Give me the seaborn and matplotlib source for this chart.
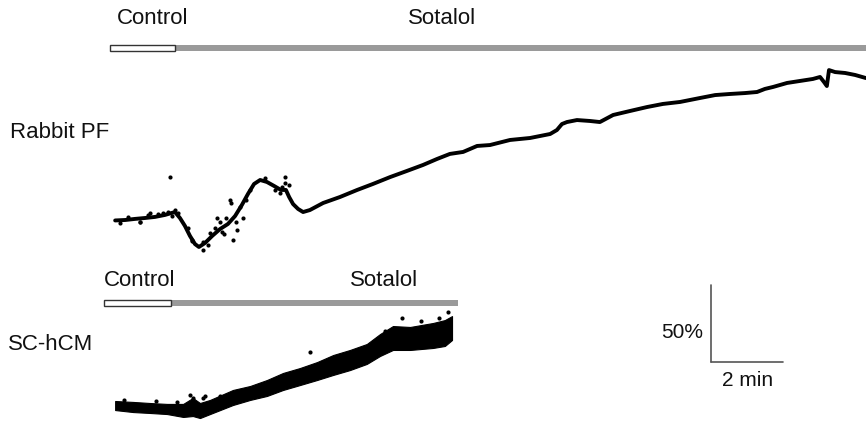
import matplotlib
matplotlib.use("Agg")
import matplotlib.pyplot as plt
from matplotlib.patches import Rectangle
import seaborn as sns
import pandas as pd

# ---------------- data (time in min, signal in % change) ----------------
rabbit_t = [0.06, 0.34, 0.61, 0.89, 1.17, 1.45, 1.73, 1.87, 2.01, 2.15, 2.29, 2.40,
            2.57, 2.77, 2.99, 3.21, 3.41, 3.60, 3.77, 3.94, 4.11, 4.30, 4.50, 4.69,
            4.83, 4.92, 5.03, 5.17, 5.31, 5.50, 5.87, 6.34, 6.82, 7.26, 7.74, 8.21,
            8.66, 9.05, 9.41, 9.78, 10.17, 10.53, 11.09, 11.65, 12.21, 12.40, 12.54,
            12.68, 12.96, 13.32, 13.60, 13.97, 14.44, 14.92, 15.36, 15.84, 16.40,
            16.82, 17.23, 17.65, 17.99, 18.21, 18.44, 18.83, 19.19, 19.55, 19.75,
            19.86, 19.94, 20.00, 20.17, 20.45, 20.73, 21.03]
rabbit_v = [-0.3, 0.0, 0.7, 1.3, 2.0, 3.3, 5.2, 1.3, -3.9, -10.4, -15.7, -17.6,
            -15.0, -10.4, -5.9, -2.6, 2.6, 9.8, 17.0, 23.5, 26.1, 24.8, 22.2, 19.6,
            19.6, 15.0, 10.4, 7.2, 5.2, 6.5, 11.1, 15.0, 19.6, 23.5, 28.0, 32.0,
            35.9, 39.8, 43.1, 44.4, 48.3, 48.9, 52.2, 53.5, 56.1, 58.7, 62.6,
            63.9, 65.2, 64.6, 63.9, 68.5, 71.1, 73.7, 75.7, 77.0, 79.6,
            81.5, 82.2, 82.8, 83.5, 85.5, 86.8, 89.4, 90.7, 92.0, 93.3,
            90.0, 87.4, 97.8, 96.5, 95.9, 94.6, 92.6]
# scattered samples around the trace (control and early sotalol)
rabbit_dot_t = [3.27, 3.30, 3.46, 3.35, 2.91, 2.71, 2.99, 3.55, 3.63, 4.80, 4.72,
                1.03, 1.40, 1.73, 1.59, 4.80, 2.20, 2.50, 3.10, 0.75,
                0.20, 0.42, 0.75, 0.98, 1.26, 1.54, 1.65, 1.82,
                2.09, 2.21, 2.51, 2.65, 2.85, 3.04, 3.16, 3.44, 3.72, 3.83,
                4.25, 4.53, 4.66, 4.92]
rabbit_dot_v = [13.0, 11.1, -6.5, -13.0, 1.3, -8.5, -1.3, 8.5, 1.3, 24.1, 21.5,
                4.6, 4.6, 6.5, 28.0, 28.0, -14.0, -19.5, -9.0, -1.5,
                -2.0, 2.0, -1.3, 3.3, 3.9, 5.2, 2.6, 4.6,
                -5.2, -13.0, -14.4, -16.3, -5.2, -7.8, 1.3, -1.3, 13.0, 19.6,
                27.4, 19.6, 17.6, 22.8]

sc_t = [0.06, 0.56, 1.03, 1.51, 1.96, 2.23, 2.43, 2.71, 3.35, 3.83, 4.30, 4.75,
        5.22, 5.70, 6.15, 6.62, 7.09, 7.46, 7.82, 8.30, 8.94, 9.27, 9.47]
sc_upper = [2.6, 2.0, 1.3, 0.7, 0.7, 4.6, 1.3, 3.3, 9.8, 12.4, 16.3, 20.9,
            24.1, 28.0, 32.6, 35.9, 39.8, 46.3, 51.5, 50.9, 53.5, 55.4, 58.0]
sc_lower = [-3.3, -4.6, -5.2, -5.9, -7.8, -7.2, -8.5, -5.9, 0.0, 3.3, 5.9, 9.8,
            13.0, 16.3, 19.6, 22.8, 26.8, 32.0, 35.9, 35.9, 37.2, 38.5, 42.4]
sc_dot_t = [8.07, 5.50, 9.36, 2.51, 2.15, 2.23, 2.57, 7.60, 8.60, 9.10,
            0.30, 1.20, 1.80, 3.00]
sc_dot_v = [56.8, 34.6, 60.7, 4.6, 6.5, 4.6, 5.9, 48.5, 55.0, 57.0,
            3.5, 2.6, 2.0, 6.0]

# drug application periods (min)
rabbit_period = [-0.08, 1.73, 21.1]   # start, control end, sotalol end
sc_period = [-0.25, 1.62, 9.64]
period_labels = ["Control", "Sotalol"]
row_labels = ["Rabbit PF", "SC-hCM"]
scale_labels = ["50%", "2 min"]
scale_size = [50, 2]   # % and min

# ---------------- layout ----------------
W, H = 866, 424
PX_MIN = 35.8      # pixels per minute
PX_PCT = 1.533     # pixels per %
X0, Y0 = 113, 220  # pixel of rabbit (t=0, v=0)
SC_OFFSET = -(405 - 220) / PX_PCT

sns.set_theme(style="white")
plt.rcParams["font.family"] = ["Liberation Sans", "DejaVu Sans"]

fig = plt.figure(figsize=(W / 100, H / 100), dpi=100)
ax = fig.add_axes([0, 0, 1, 1])
ax.set_xlim(-X0 / PX_MIN, (W - X0) / PX_MIN)
ax.set_ylim((Y0 - H) / PX_PCT, Y0 / PX_PCT)
ax.axis("off")

rab = pd.DataFrame({"t": rabbit_t, "v": rabbit_v})
sns.lineplot(data=rab, x="t", y="v", ax=ax, color="black", lw=2.8,
             sort=False, estimator=None)
sns.scatterplot(x=rabbit_dot_t, y=rabbit_dot_v, ax=ax, color="black", s=9,
                linewidth=0)

sc_up = [u + SC_OFFSET for u in sc_upper]
sc_lo = [l + SC_OFFSET for l in sc_lower]
ax.fill_between(sc_t, sc_lo, sc_up, color="black", lw=0.8, edgecolor="black")
sns.scatterplot(x=sc_dot_t, y=[v + SC_OFFSET for v in sc_dot_v], ax=ax,
                color="black", s=9, linewidth=0)

GRAY = "#9a9a9a"
def period_bar(period, y_px):
    yc = (Y0 - y_px) / PX_PCT
    h = 6 / PX_PCT
    ax.add_patch(Rectangle((period[1], yc - h / 2), period[2] - period[1], h,
                           facecolor=GRAY, edgecolor="none"))
    ax.add_patch(Rectangle((period[0], yc - h / 2), period[1] - period[0], h,
                           facecolor="white", edgecolor="#333333", lw=1.0))

period_bar(rabbit_period, 48)
period_bar(sc_period, 302.5)

# scale bar
sx = (711 - X0) / PX_MIN
sy = (Y0 - 362) / PX_PCT
ax.plot([sx, sx], [sy, sy + scale_size[0]], color="#555555", lw=1.2)
ax.plot([sx, sx + scale_size[1]], [sy, sy], color="#555555", lw=1.2)

def ptext(x, y, s, ha="left", size=16):
    fig.text(x / W, 1 - y / H, s, ha=ha, va="center", fontsize=size,
             color="#111111")

ptext(117, 18, period_labels[0])
ptext(408, 18, period_labels[1])
ptext(10, 132, row_labels[0])
ptext(104, 280, period_labels[0])
ptext(350, 280, period_labels[1])
ptext(8, 345, row_labels[1])
ptext(703, 333, scale_labels[0], ha="right", size=15)
ptext(748, 380, scale_labels[1], ha="center", size=15)

fig.savefig("out.png", dpi=100)
